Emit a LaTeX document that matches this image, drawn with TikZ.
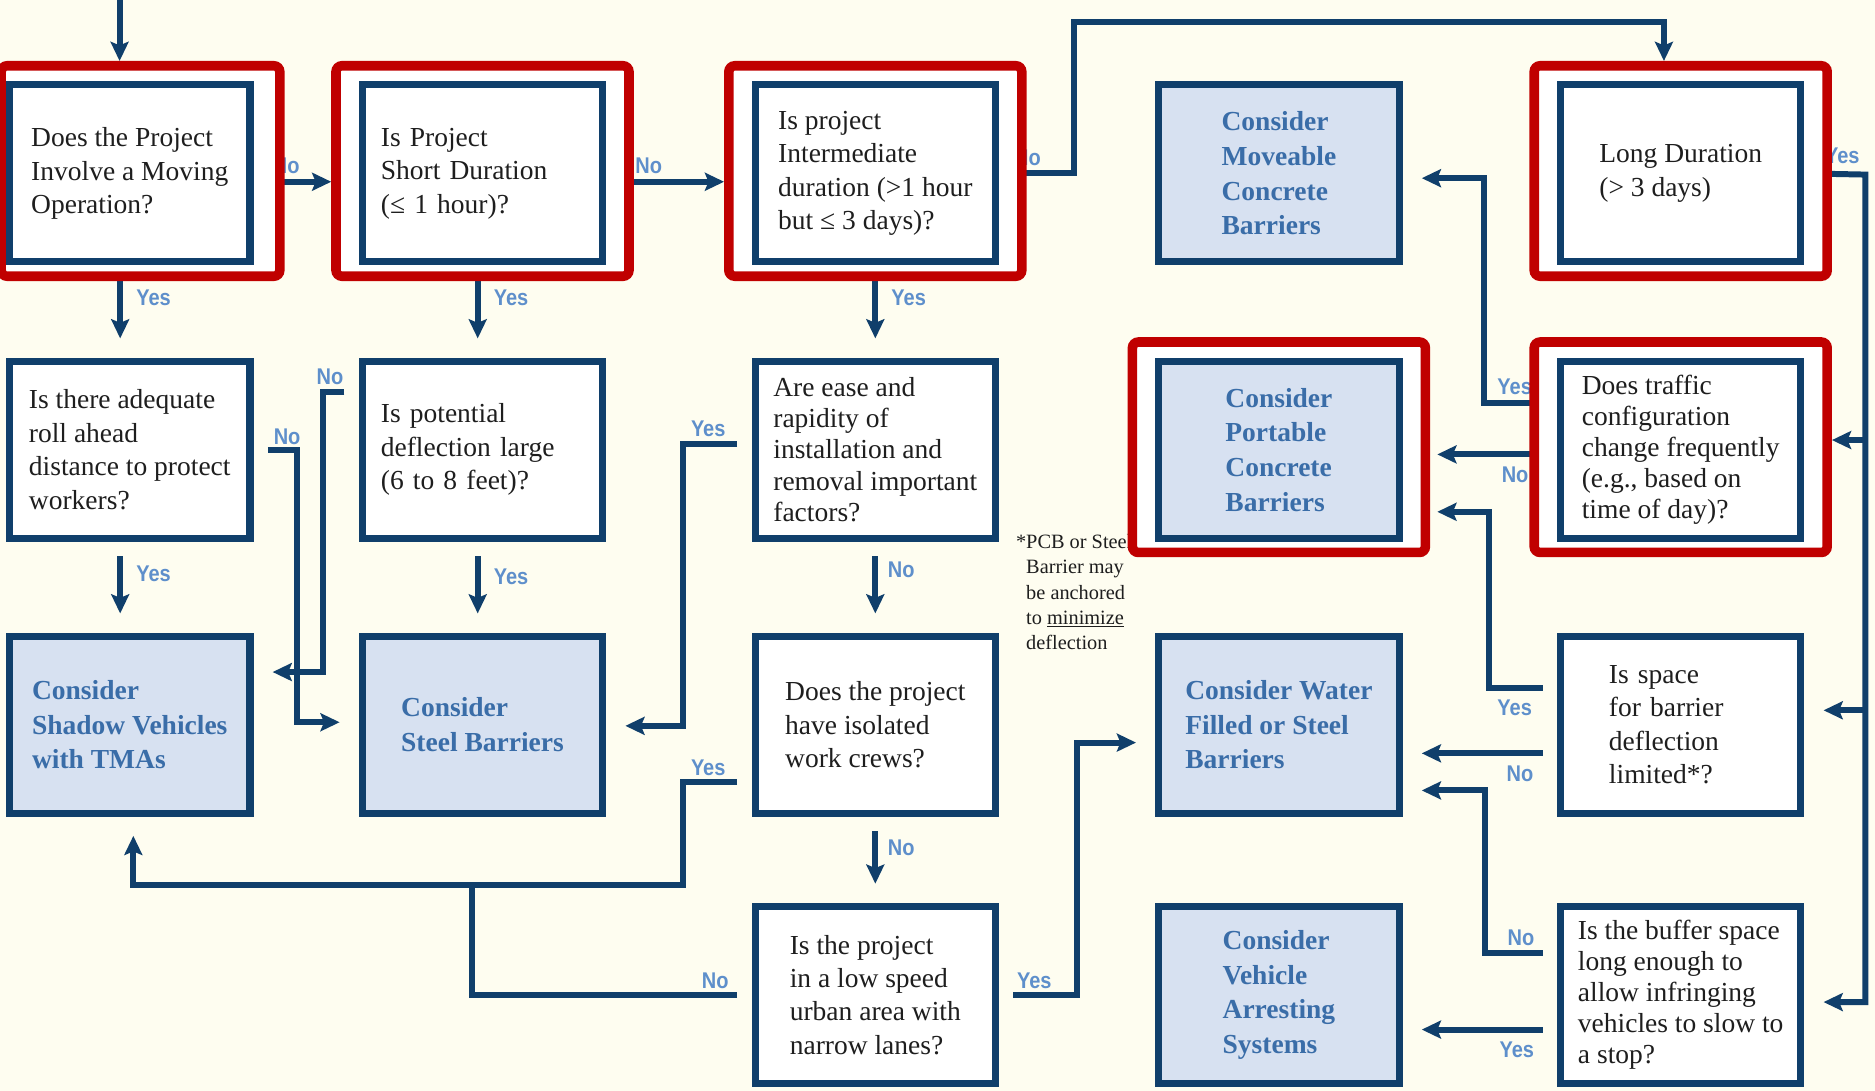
\documentclass[tikz,border=0pt]{standalone}
\usepackage{fontspec}
\setmainfont{Liberation Serif}
\newfontfamily\labfont[FakeStretch=0.88]{Liberation Sans}
\usepackage{xcolor}
\usepackage{tikz}
\usetikzlibrary{positioning, fit, arrows.meta}

\definecolor{navy}{HTML}{103F6B}
\definecolor{pale}{HTML}{D7E1F1}
\definecolor{cream}{HTML}{FEFDF0}
\definecolor{alert}{HTML}{C00000}
\definecolor{inkblue}{HTML}{3A6DA8}
\definecolor{sky}{HTML}{5E8FCB}
\definecolor{ink}{HTML}{1E1E1E}

\pgfdeclarelayer{bg}
\pgfdeclarelayer{links}
\pgfdeclarelayer{frames}
\pgfsetlayers{bg,links,frames,main}

\begin{document}
\begin{tikzpicture}[x=1pt, y=-1pt, on grid,
    ask/.style={draw=navy, line width=6pt, fill=white, minimum width=201pt,
      minimum height=148pt, align=left, text=ink,
      font=\fontsize{23}{28}\selectfont},
    ask5/.style={ask, font=\fontsize{23}{26}\selectfont},
    pick/.style={ask, fill=pale, text=inkblue,
      font=\bfseries\fontsize{23}{29}\selectfont},
    hilite/.style={draw=alert, line width=8pt, fill=white, rounded corners=5pt,
      inner xsep=19pt, inner ysep=11pt, yshift=2pt},
    link/.style={draw=navy, line width=5pt, shorten <=12pt, shorten >=16pt,
      -{Stealth[length=16pt, width=15pt, inset=3pt]}},
    lab/.style={font=\labfont\bfseries\fontsize{19}{19}\selectfont,
      text=sky, inner sep=1pt}]
        \useasboundingbox (0,0) rectangle (1568,912);
        \begin{pgfonlayer}{bg}
            \fill[cream] (0,0) rectangle (1568,912);
        \end{pgfonlayer}

        % questions and choices
        \node[ask] (moving) at (108.5,145) {Does the Project\\Involve a Moving\\Operation?};
        \node[ask, text width=170pt] (short) [right=295pt of moving] {Is Project\\Short Duration\\(≤ 1 hour)?};
        \node[ask] (inter) [right=328.5pt of short] {Is project\\Intermediate\\duration (>1 hour\\but ≤ 3 days)?};
        \node[pick] (moveable) [right=337.5pt of inter] {Consider\\Moveable\\Concrete\\Barriers};
        \node[ask] (long) [right=336pt of moveable] {Long Duration\\(> 3 days)};

        \node[ask] (rollahead) [below=231pt of moving] {Is there adequate\\roll ahead\\distance to protect\\workers?};
        \node[ask, text width=170pt] (deflect) [below=231pt of short] {Is potential\\deflection large\\(6 to 8 feet)?};
        \node[ask5] (ease) [below=231pt of inter] {Are ease and\\rapidity of\\installation and\\removal important\\factors?};
        \node[pick] (portable) [below=231pt of moveable] {Consider\\Portable\\Concrete\\Barriers};
        \node[ask5] (traffic) [below=231pt of long] {Does traffic\\configuration\\change frequently\\(e.g., based on\\time of day)?};

        \node[pick] (shadow) [below=230pt of rollahead] {Consider\\Shadow Vehicles\\with TMAs};
        \node[pick] (steel) [below=230pt of deflect] {Consider\\Steel Barriers};
        \node[ask] (crews) [below=230pt of ease] {Does the project\\have isolated\\work crews?};
        \node[pick] (water) [below=230pt of portable] {Consider Water\\Filled or Steel\\Barriers};
        \node[ask, text width=120pt] (space) [below=230pt of traffic] {Is space\\for barrier\\deflection\\limited*?};

        \node[ask] (urban) [below=226pt of crews] {Is the project\\in a low speed\\urban area with\\narrow lanes?};
        \node[pick] (arrest) [below=226pt of water] {Consider\\Vehicle\\Arresting\\Systems};
        \node[ask5] (buffer) [below=226pt of space] {Is the buffer space\\long enough to\\allow infringing\\vehicles to slow to\\a stop?};

        % red highlights
        \begin{pgfonlayer}{frames}
            \node[hilite, fit=(moving), inner xsep=13pt, xshift=9pt] (fmoving) {};
            \node[hilite, fit=(short)] (fshort) {};
            \node[hilite, fit=(inter)] (finter) {};
            \node[hilite, fit=(long)] (flong) {};
            \node[hilite, fit=(portable)] (fportable) {};
            \node[hilite, fit=(traffic)] (ftraffic) {};
        \end{pgfonlayer}

        \begin{pgfonlayer}{links}
            \coordinate (entry) at (100,0);
            \draw[link, shorten <=0pt, shorten >=0pt] (entry) -- (entry |- fmoving.north);

            % top row
            \draw[link, shorten >=0pt] ([yshift=-7pt]moving.east) -- node[lab, above=3pt, pos=.42] {No} ([yshift=-7pt]moving.east -| fshort.west);
            \draw[link, shorten >=0pt] ([yshift=-7pt]short.east) -- node[lab, above=3pt, pos=.36] {No} ([yshift=-7pt]short.east -| finter.west);
            \draw[link, shorten >=0pt] (inter.east) -- node[lab, above=3pt, pos=.38] {No} (898,145) -- (898,18) -| ([xshift=-14pt]flong.north);

            % downwards
            \draw[link] ([xshift=-8pt]moving.south) -- node[lab, right=10pt, pos=.35] {Yes} ([xshift=-8pt]rollahead.north);
            \draw[link] ([xshift=-4pt]short.south) -- node[lab, right=10pt, pos=.35] {Yes} ([xshift=-4pt]deflect.north);
            \draw[link] (inter.south) -- node[lab, right=10pt, pos=.35] {Yes} (ease.north);
            \draw[link] ([xshift=-8pt]rollahead.south) -- node[lab, right=10pt, pos=.35] {Yes} ([xshift=-8pt]shadow.north);
            \draw[link] ([xshift=-4pt]deflect.south) -- node[lab, right=10pt, pos=.39] {Yes} ([xshift=-4pt]steel.north);
            \draw[link] (ease.south) -- node[lab, right=7pt, pos=.31] {No} (crews.north);
            \draw[link] (crews.south) -- node[lab, right=7pt, pos=.36] {No} (urban.north);

            % crossing lines on the left
            \draw[link] (rollahead.east) -- node[lab, above=1pt, pos=.78] {No} (248,376) |- ([yshift=2pt]steel.west);
            \draw[link] ([yshift=48pt]deflect.west) -- node[lab, above=3pt, pos=.8] {No} (270,328) |- ([yshift=44pt]shadow.east);
            \draw[link] ([yshift=5pt]ease.west) -- node[lab, above=2pt, pos=.63] {Yes} (571,371) |- ([yshift=-1pt]steel.east);
            \draw[link] ([yshift=-48pt]crews.west) -- node[lab, above=2pt, pos=.63] {Yes} (571,654) -- (571,740) -| ([xshift=3pt]shadow.south);
            \draw[link, -, shorten >=0pt] (urban.west) -- node[lab, above=2pt, pos=.13] {No} (395,832) -- (395,740);
            \draw[link] (urban.east) -- node[lab, above=2pt, pos=.45] {Yes} (901,832) |- ([yshift=-15pt]water.west);

            % right side
            \coordinate (trunk) at (1560,146);
            \draw[link] (long.east) -- node[lab, above=5pt, pos=.62] {Yes} (trunk) |- ([yshift=-6pt]buffer.east);
            \draw[link, shorten <=0pt, shorten >=0pt] ([yshift=8pt]traffic.east -| trunk) -- ([yshift=8pt]traffic.east -| ftraffic.east);
            \draw[link, shorten <=0pt] ([yshift=12pt]space.east -| trunk) -- ([yshift=12pt]space.east);

            \draw[link] ([yshift=39pt]traffic.west) -- node[lab, above=3pt, pos=.58] {Yes} (1241,337) |- ([yshift=-4pt]moveable.east);
            \draw[link, shorten >=6pt] ([yshift=-4pt]traffic.west) -- node[lab, below=7pt, pos=.33] {No} ([yshift=-4pt]traffic.west -| fportable.east);
            \draw[link, shorten >=6pt] ([yshift=31pt]space.west) -- node[lab, below=7pt, pos=.62] {Yes} (1245,575) |- ([yshift=-54pt]fportable.east);
            \draw[link] ([yshift=-24pt]space.west) -- node[lab, below=7pt, pos=.24] {No} ([yshift=-24pt]water.east);
            \draw[link] ([yshift=35pt]buffer.west) -- node[lab, above=3pt, pos=.5] {No} (1242,797) |- ([yshift=-55pt]water.east);
            \draw[link] ([yshift=-29pt]buffer.west) -- node[lab, below=7pt, pos=.26] {Yes} ([yshift=-29pt]arrest.east);

            % footnote
            \node[anchor=north west, inner sep=0pt, align=left, text=ink,
              font=\fontsize{17}{21}\selectfont] (note) at (858,447)
              {\llap{*}PCB or Steel\\Barrier may\\be anchored\\to \underline{minimize}\\deflection};
        \end{pgfonlayer}
    \end{tikzpicture}
\end{document}
